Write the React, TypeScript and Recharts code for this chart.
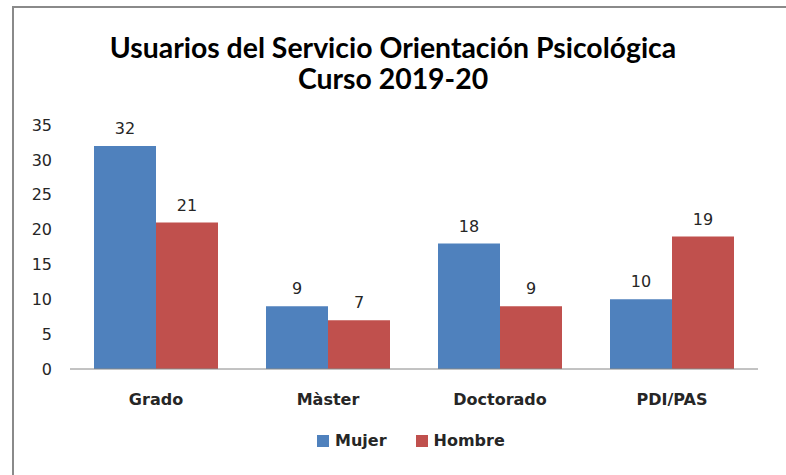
import { Bar, BarChart, LabelList, XAxis, YAxis } from "recharts";

const categories = ["Grado", "Màster", "Doctorado", "PDI/PAS"];
const mujer = [32, 9, 18, 10];
const hombre = [21, 7, 9, 19];
const yTicks = [0, 5, 10, 15, 20, 25, 30, 35];
const titleLines = ["Usuarios del Servicio Orientación Psicológica", "Curso 2019-20"];

const BLUE = "#4F81BD";
const RED = "#C0504D";
const TEXT = "#262626";

const data = categories.map((name, i) => ({
  name,
  Mujer: mujer[i],
  Hombre: hombre[i],
}));

const series = [
  { key: "Mujer", color: BLUE },
  { key: "Hombre", color: RED },
];

export default function App() {
  return (
    <div
      style={{
        position: "fixed",
        left: 0,
        top: 0,
        width: 786,
        height: 475,
        overflow: "hidden",
        background: "#fff",
      }}
    >
      {/* chart frame, only top and left edges visible */}
      <div
        style={{
          position: "absolute",
          left: 12,
          top: 6,
          width: 820,
          height: 520,
          border: "2px solid #8a8a8a",
        }}
      />
      {titleLines.map((t, i) => (
        <div
          key={t}
          style={{
            position: "absolute",
            left: 0,
            width: 786,
            top: 32 + i * 31,
            textAlign: "center",
            fontFamily: "Lato, sans-serif",
            fontWeight: 700,
            fontSize: 28.4,
            lineHeight: "30px",
            color: "#000",
          }}
        >
          {t}
        </div>
      ))}
      <div style={{ position: "absolute", left: 0, top: 0 }}>
        <BarChart
          width={786}
          height={475}
          data={data}
          margin={{ top: 125, right: 28, bottom: 66, left: 0 }}
          barGap={0}
          barSize={62}
        >
          <XAxis
            dataKey="name"
            height={40}
            tickLine={false}
            axisLine={{ stroke: "#868686" }}
            tickMargin={19}
            tick={{
              fontSize: 16,
              fontWeight: 700,
              fill: TEXT,
              fontFamily: "DejaVu Sans, sans-serif",
            }}
          />
          <YAxis
            width={70}
            domain={[0, 35]}
            ticks={yTicks}
            interval={0}
            axisLine={false}
            tickLine={false}
            tickMargin={12}
            tick={{ fontSize: 16, fill: TEXT, fontFamily: "DejaVu Sans, sans-serif" }}
          />
          {series.map((s) => (
            <Bar key={s.key} dataKey={s.key} fill={s.color} isAnimationActive={false}>
              <LabelList
                dataKey={s.key}
                position="top"
                offset={12}
                fill={TEXT}
                fontSize={16}
                fontFamily="DejaVu Sans, sans-serif"
              />
            </Bar>
          ))}
        </BarChart>
      </div>
      <div
        style={{
          position: "absolute",
          left: 317,
          top: 431,
          display: "flex",
          alignItems: "center",
          fontFamily: "DejaVu Sans, sans-serif",
          fontWeight: 700,
          fontSize: 16,
          color: TEXT,
        }}
      >
        {series.map((s) => (
          <div key={s.key} style={{ display: "flex", alignItems: "center", marginRight: 29 }}>
            <span
              style={{
                display: "inline-block",
                width: 12,
                height: 12,
                background: s.color,
                marginRight: 6,
              }}
            />
            <span>{s.key}</span>
          </div>
        ))}
      </div>
    </div>
  );
}
